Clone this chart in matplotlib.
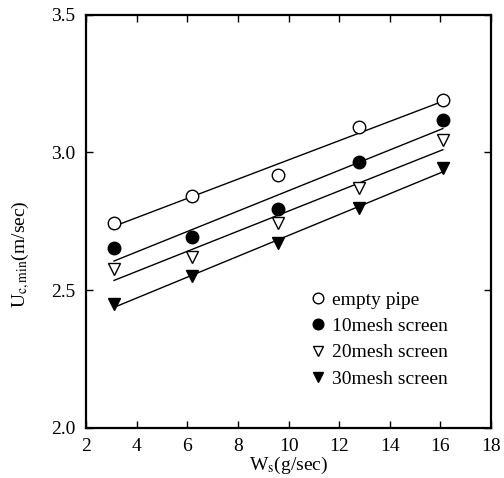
import numpy as np
import matplotlib
matplotlib.use("Agg")
import matplotlib.pyplot as plt

plt.rcParams["font.family"] = ["Liberation Serif", "DejaVu Serif"]
plt.rcParams["mathtext.fontset"] = "stix"

# ── gögn lesin af myndinni ──────────────────────────────────────────────────
ws = [3.1, 6.2, 9.6, 12.8, 16.1]          # W_s [g/sec]
u_empty = [2.745, 2.843, 2.918, 3.092, 3.19]
u_10 = [2.652, 2.694, 2.793, 2.967, 3.118]
u_20 = [2.575, 2.621, 2.745, 2.870, 3.045]
u_30 = [2.449, 2.551, 2.670, 2.797, 2.943]

labels = ["empty pipe", "10mesh screen", "20mesh screen", "30mesh screen"]
series = [u_empty, u_10, u_20, u_30]
markers = [("o", "white", 9), ("o", "black", 9), ("v", "white", 8.5), ("v", "black", 8.5)]

fig = plt.figure(figsize=(5.04, 4.78), dpi=100)
ax = fig.add_axes([0.171, 0.105, 0.803, 0.864])

x = np.array(ws)
handles = []
for y, (m, fc, ms), lbl in zip(series, markers, labels):
    y = np.array(y)
    k, b = np.polyfit(x, y, 1)
    xf = np.array([x[0], x[-1]])
    ax.plot(xf, k * xf + b, "-", color="black", lw=1.0, zorder=1)
    h, = ax.plot(x, y, m, mfc=fc, mec="black", mew=1.0, ms=ms,
                 ls="none", zorder=2, label=lbl)
    handles.append(h)

ax.set_xlim(2, 18)
ax.set_ylim(2.0, 3.5)
ax.set_xticks(np.arange(2, 19, 2))
ax.set_yticks([2.0, 2.5, 3.0, 3.5])
ax.set_yticklabels(["2.0", "2.5", "3.0", "3.5"])
ax.tick_params(direction="in", top=True, right=True, labelsize=14,
               length=5, width=1.0)
ax.tick_params(axis="x", pad=7)
ax.tick_params(axis="y", pad=8)
for s in ax.spines.values():
    s.set_linewidth(1.6)

ax.set_xlabel(r"W$_{\rm s}$(g/sec)", fontsize=14, labelpad=0)
ax.set_ylabel(r"U$_{\rm c,min}$(m/sec)", fontsize=14)
ax.yaxis.set_label_coords(-0.135, 0.42)

ax.legend(handles=handles, loc="upper left", bbox_to_anchor=(0.53, 0.35),
          frameon=False, fontsize=14, handletextpad=0.2, labelspacing=0.45,
          handlelength=1.0, borderaxespad=0, markerscale=0.85)

fig.savefig("out.png", dpi=100)
